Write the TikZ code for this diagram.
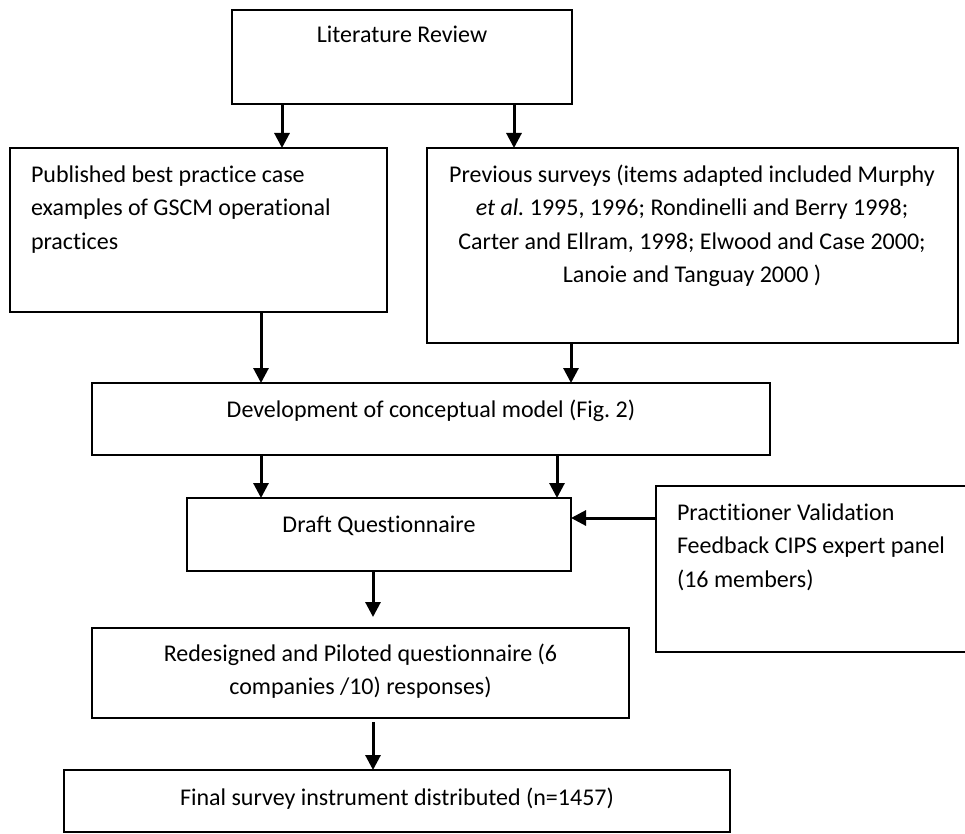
\documentclass[tikz,border=0pt]{standalone}
\usepackage{fontspec}
\setmainfont{Carlito}[Ligatures=NoCommon]
\frenchspacing
\usetikzlibrary{arrows.meta,calc}
\tikzset{
  box/.style={draw=black, line width=1.8pt, inner sep=0pt, outer sep=0pt, anchor=north west, fill=none},
  arr/.style={line width=3pt, -{Triangle[width=15pt,length=15pt]}},
  txt/.style={inner sep=0pt, outer sep=0pt, font=\fontsize{24}{33.5}\selectfont\frenchspacing}
}
\begin{document}
\begin{tikzpicture}[x=1pt,y=-1pt]
\useasboundingbox[fill=white] (0,0) rectangle (965,834);
% boxes
\node[box, minimum width=340pt, minimum height=94pt] (lit) at (232,10) {};
\node[box, minimum width=377pt, minimum height=164pt] (pub) at (10,148) {};
\node[box, minimum width=531pt, minimum height=195pt] (prev) at (427,148) {};
\node[box, minimum width=678pt, minimum height=72pt] (dev) at (92,383) {};
\node[box, minimum width=384pt, minimum height=73pt] (draft) at (187,498) {};
\node[box, minimum width=314pt, minimum height=166pt] (prac) at (656,486) {};
\node[box, minimum width=537pt, minimum height=90pt] (red) at (92,628) {};
\node[box, minimum width=666pt, minimum height=62pt] (fin) at (64,770) {};
% texts
\node[txt, anchor=base] (tlit) at (402,43) {Literature Review};
\node[txt, anchor=north west, align=left] (tpub) at (31,159) {\strut Published best practice case\\examples of GSCM operational\\practices};
\node[txt, anchor=north, align=center] (tprev) at (692,159) {\strut Previous surveys (items adapted included Murphy\\\textit{et al.} 1995, 1996; Rondinelli and Berry 1998;\\Carter and Ellram, 1998; Elwood and Case 2000;\\Lanoie and Tanguay 2000 )};
\node[txt, anchor=base] (tdev) at (431,417) {Development of conceptual model (Fig. 2)};
\node[txt, anchor=base] (tdraft) at (379,532) {Draft Questionnaire};
\node[txt, anchor=north west, align=left] (tprac) at (677,497) {\strut Practitioner Validation\\Feedback CIPS expert panel\\(16 members)};
\node[txt, anchor=north, align=center] (tred) at (360.5,638) {\strut Redesigned and Piloted questionnaire (6\\companies /10) responses)};
\node[txt, anchor=base] (tfin) at (397,805) {Final survey instrument distributed (n=1457)};
% arrow columns
\coordinate (c1) at (282,0);
\coordinate (c2) at (514,0);
\coordinate (c3) at (261,0);
\coordinate (c4) at (571,0);
\coordinate (c5) at (557,0);
\coordinate (c6) at (373,0);
\coordinate (r1) at (0,518);
% connectors
\draw[arr] (lit.south -| c1) -- (pub.north -| c1);
\draw[arr] (lit.south -| c2) -- (prev.north -| c2);
\draw[arr] (pub.south -| c3) -- (dev.north -| c3);
\draw[arr] (prev.south -| c4) -- (dev.north -| c4);
\draw[arr] (dev.south -| c3) -- (draft.north -| c3);
\draw[arr] (dev.south -| c5) -- (draft.north -| c5);
\draw[arr] (prac.west |- r1) -- (draft.east |- r1);
\draw[arr] (draft.south -| c6) -- ($(red.north -| c6)+(0,-11)$);
\draw[arr] ($(red.south -| c6)+(0,4)$) -- (fin.north -| c6);
\end{tikzpicture}
\end{document}
